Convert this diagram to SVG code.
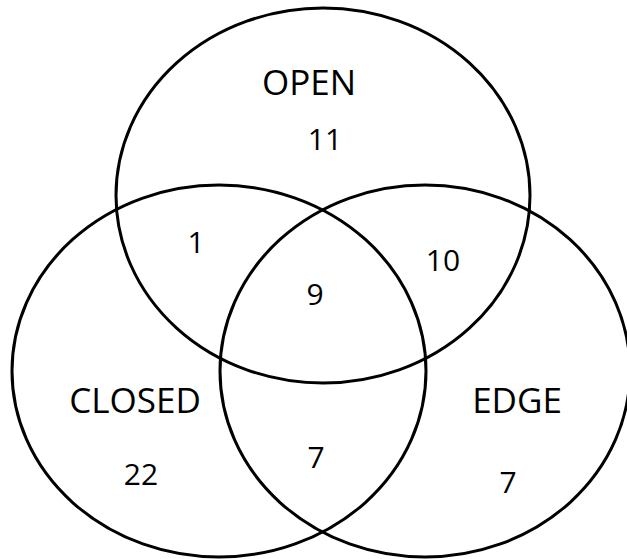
<svg xmlns="http://www.w3.org/2000/svg" width="627" height="559" viewBox="0 0 627 559">
<style>
.set{fill:none;stroke:#000;stroke-width:3}
.lbl{font-family:"Open Sans","Liberation Sans",sans-serif;font-size:35px;fill:#000;text-anchor:middle}
.num{font-family:"Open Sans","Liberation Sans",sans-serif;font-size:30px;fill:#000;text-anchor:middle}
</style>
<rect width="627" height="559" fill="#fff"/>
<g id="connectors"/>
<g id="open">
<ellipse class="set" cx="323" cy="195.5" rx="207" ry="187.5"/>
<text class="lbl" x="309" y="95">OPEN</text>
<text class="num" x="325" y="150">11</text>
</g>
<g id="closed">
<ellipse class="set" cx="219" cy="371" rx="207" ry="186"/>
<text class="lbl" x="135" y="413">CLOSED</text>
<text class="num" x="141" y="485">22</text>
</g>
<g id="edge">
<ellipse class="set" cx="425" cy="371" rx="205" ry="186"/>
<text class="lbl" x="517" y="413">EDGE</text>
<text class="num" x="508" y="493">7</text>
</g>
<g id="intersections">
<text class="num" x="196" y="253">1</text>
<text class="num" x="443" y="271">10</text>
<text class="num" x="315" y="305">9</text>
<text class="num" x="316" y="468">7</text>
</g>
</svg>
